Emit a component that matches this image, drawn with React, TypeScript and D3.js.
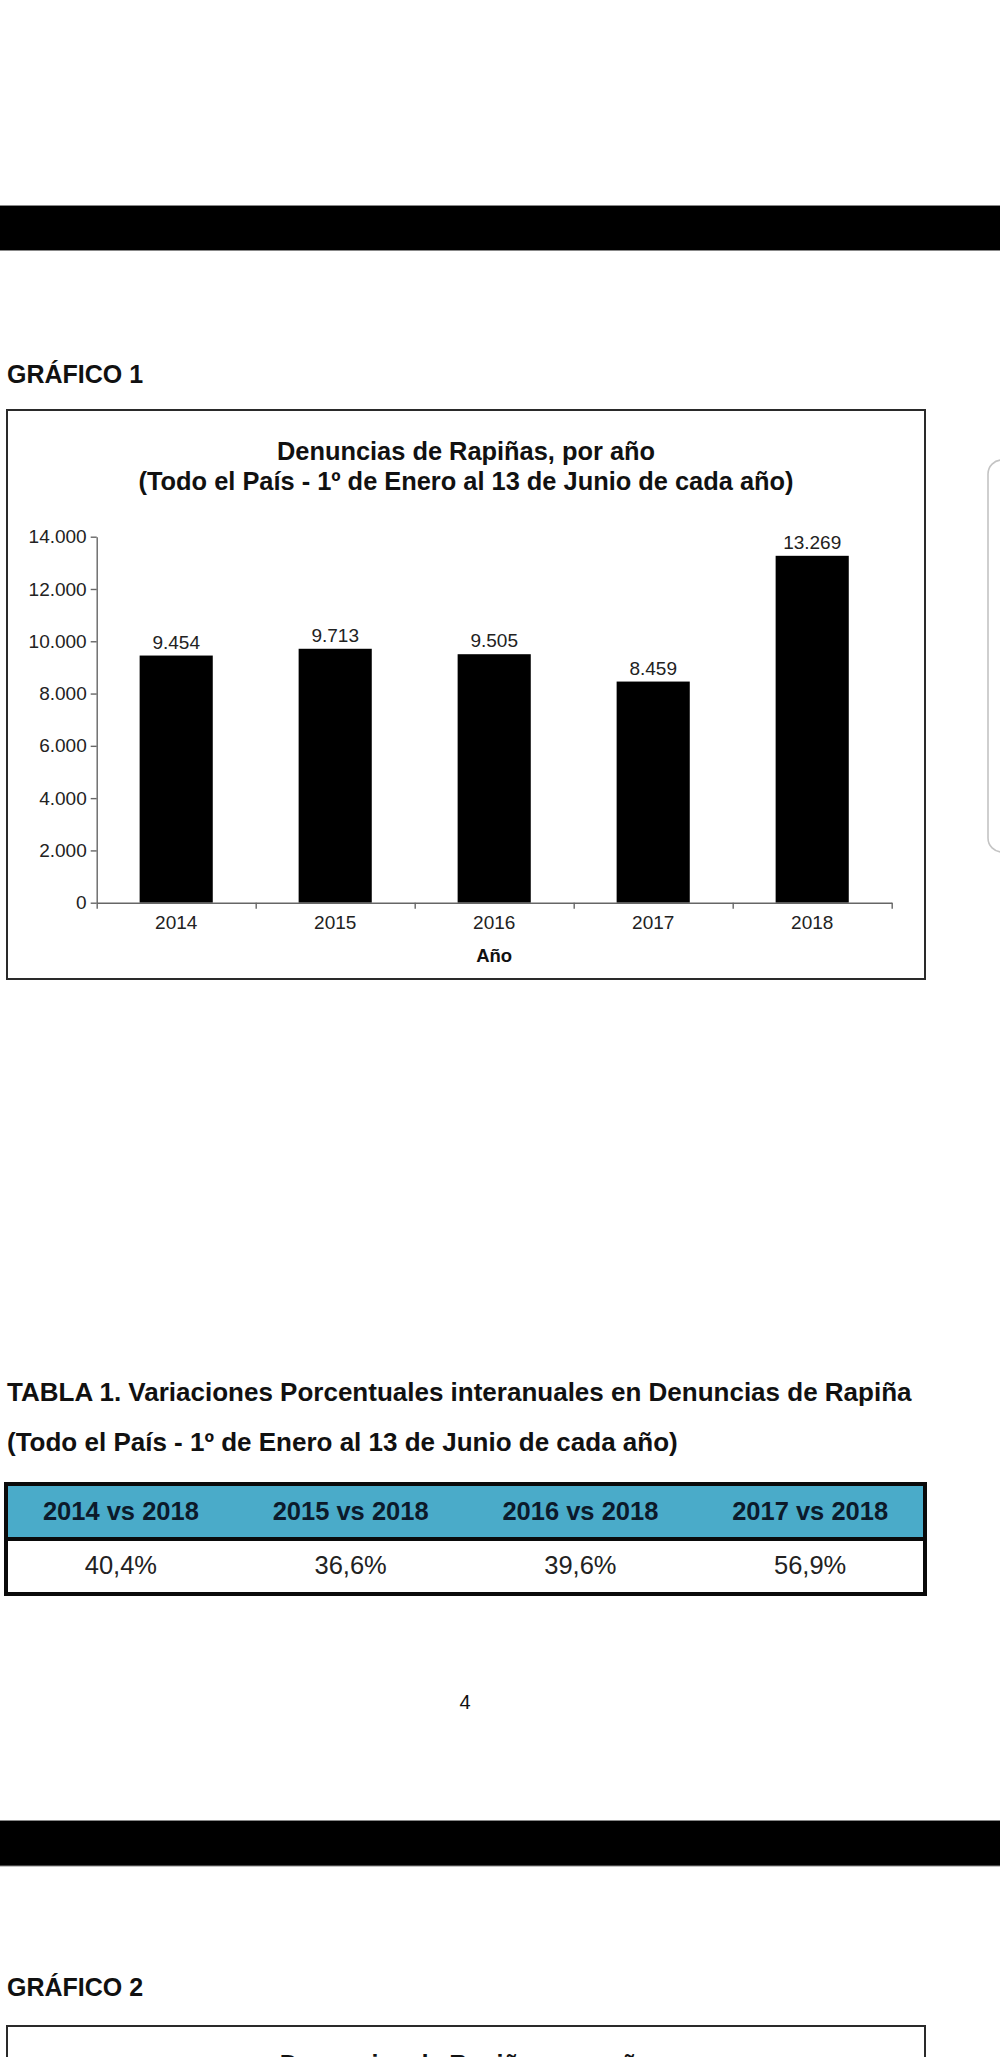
import React, { useEffect, useRef } from "react";
import * as d3 from "d3";

const years = ["2014", "2015", "2016", "2017", "2018"];
const denuncias = [9454, 9713, 9505, 8459, 13269];
const yTickValues = [0, 2000, 4000, 6000, 8000, 10000, 12000, 14000];
const comparisons = ["2014 vs 2018", "2015 vs 2018", "2016 vs 2018", "2017 vs 2018"];
const variations = ["40,4%", "36,6%", "39,6%", "56,9%"];

const FONT = "'Liberation Sans', Arial, Helvetica, sans-serif";
const W = 1000;
const H = 2057;

const locale = d3.formatLocale({ decimal: ",", thousands: ".", grouping: [3], currency: ["", ""] });
const fmt = locale.format(",d");

// plot geometry
const plotLeft = 96.7;
const plotRight = 891.7;
const plotTop = 536.7;
const plotBottom = 902.7;

export default function App() {
  const yAxisRef = useRef<SVGGElement>(null);
  const xAxisRef = useRef<SVGGElement>(null);
  const xTickRef = useRef<SVGGElement>(null);

  const x = d3.scaleBand<string>().domain(years).range([plotLeft, plotRight]).padding(0);
  const xBound = d3.scaleLinear().domain([0, years.length]).range([plotLeft, plotRight]);
  const y = d3.scaleLinear().domain([0, 14000]).range([plotBottom, plotTop]);
  const barW = x.bandwidth() * 0.46;

  const tableLeft = 6;
  const tableRight = 925;
  const col = d3.scaleBand<number>().domain(d3.range(comparisons.length)).range([tableLeft, tableRight]);

  useEffect(() => {
    if (yAxisRef.current) {
      const g = d3.select(yAxisRef.current);
      g.call(
        d3.axisLeft(y).tickValues(yTickValues).tickFormat((d) => fmt(d as number)).tickSize(6).tickSizeOuter(0).tickPadding(4)
      );
      g.selectAll("path,line").attr("stroke", "#666").attr("stroke-width", 1.4);
      g.selectAll("text").attr("font-family", FONT).attr("font-size", 19).attr("fill", "#222");
    }
    if (xTickRef.current) {
      const g = d3.select(xTickRef.current);
      g.call(d3.axisBottom(xBound).ticks(years.length).tickFormat(() => "").tickSize(6).tickSizeOuter(0));
      g.selectAll("path,line").attr("stroke", "#666").attr("stroke-width", 1.4);
    }
    if (xAxisRef.current) {
      const g = d3.select(xAxisRef.current);
      g.call(d3.axisBottom(x).tickSize(0).tickPadding(13));
      g.select(".domain").remove();
      g.selectAll("text").attr("font-family", FONT).attr("font-size", 19).attr("fill", "#222");
    }
  }, []);

  return (
    <svg
      width={W}
      height={H}
      viewBox={`0 0 ${W} ${H}`}
      style={{ position: "absolute", left: 0, top: 0, background: "#fff" }}
      fontFamily={FONT}
    >
      <rect x={0} y={0} width={W} height={H} fill="#fff" />
      {/* top black band */}
      <rect x={-2} y={205.5} width={W + 4} height={45} fill="#000" stroke="#888" strokeWidth={1} />

      <text x={7} y={382.5} fontSize={25} fontWeight="bold" fill="#111">GRÁFICO 1</text>

      {/* chart frame */}
      <rect x={7} y={410} width={918} height={569} fill="#fff" stroke="#2a2a2a" strokeWidth={2} />

      {/* side rounded element */}
      <rect x={988} y={460} width={40} height={392} rx={14} fill="#fff" stroke="#c4c4c4" strokeWidth={1.6} />

      {/* chart title */}
      <text x={466} y={460} textAnchor="middle" fontSize={25.4} fontWeight="bold" fill="#111">
        Denuncias de Rapiñas, por año
      </text>
      <text x={466} y={490} textAnchor="middle" fontSize={25.4} fontWeight="bold" fill="#111">
        (Todo el País - 1º de Enero al 13 de Junio de cada año)
      </text>

      {/* bars */}
      {years.map((yr, i) => {
        const cx = (x(yr) as number) + x.bandwidth() / 2;
        return (
          <g key={yr}>
            <rect
              x={cx - barW / 2}
              y={y(denuncias[i])}
              width={barW}
              height={plotBottom - y(denuncias[i])}
              fill="#000"
            />
            <text x={cx} y={y(denuncias[i]) - 7} textAnchor="middle" fontSize={19} fill="#222">
              {fmt(denuncias[i])}
            </text>
          </g>
        );
      })}

      <g ref={yAxisRef} transform={`translate(${plotLeft},0)`} />
      <g ref={xTickRef} transform={`translate(0,${plotBottom})`} />
      <g ref={xAxisRef} transform={`translate(0,${plotBottom})`} />

      <text x={(plotLeft + plotRight) / 2} y={961.5} textAnchor="middle" fontSize={18.5} fontWeight="bold" fill="#111">
        Año
      </text>

      {/* table titles */}
      <text x={7} y={1400.5} fontSize={26} fontWeight="bold" fill="#111">
        TABLA 1. Variaciones Porcentuales interanuales en Denuncias de Rapiña
      </text>
      <text x={7} y={1451} fontSize={26} fontWeight="bold" fill="#111">
        (Todo el País - 1º de Enero al 13 de Junio de cada año)
      </text>

      {/* table */}
      <rect x={tableLeft} y={1484} width={tableRight - tableLeft} height={55} fill="#4aabc9" />
      <rect x={tableLeft} y={1539} width={tableRight - tableLeft} height={55} fill="#fff" />
      <rect x={tableLeft} y={1484} width={tableRight - tableLeft} height={110} fill="none" stroke="#0a0a0a" strokeWidth={4} />
      <line x1={tableLeft} x2={tableRight} y1={1539} y2={1539} stroke="#0a0a0a" strokeWidth={4} />
      {comparisons.map((c, i) => {
        const cx = (col(i) as number) + col.bandwidth() / 2;
        return (
          <g key={c}>
            <text x={cx} y={1520} textAnchor="middle" fontSize={25.5} fontWeight="bold" fill="#0c1a2b">
              {c}
            </text>
            <text x={cx} y={1574} textAnchor="middle" fontSize={25.5} fill="#222">
              {variations[i]}
            </text>
          </g>
        );
      })}

      {/* page number */}
      <text x={465} y={1709} textAnchor="middle" fontSize={20} fill="#111">4</text>

      {/* second black band */}
      <rect x={-2} y={1820.5} width={W + 4} height={45.5} fill="#000" stroke="#888" strokeWidth={1} />

      <text x={7} y={1996} fontSize={25} fontWeight="bold" fill="#111">GRÁFICO 2</text>
      <rect x={7} y={2026} width={918} height={120} fill="#fff" stroke="#2a2a2a" strokeWidth={2} />
      <text x={466} y={2073} textAnchor="middle" fontSize={25} fontWeight="bold" fill="#111">
        Denuncias de Rapiñas, por año
      </text>
    </svg>
  );
}
